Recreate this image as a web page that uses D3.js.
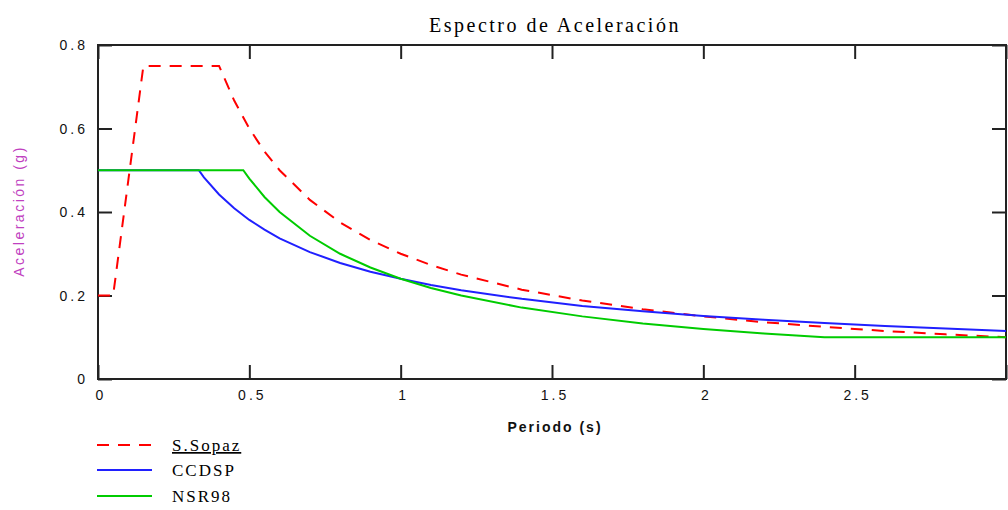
<!DOCTYPE html>
<html>
<head>
<meta charset="utf-8">
<script src="https://cdn.jsdelivr.net/npm/d3@7"></script>
<style>
  html, body { margin: 0; padding: 0; background: #fff; }
  svg { display: block; }
</style>
</head>
<body>
<svg id="chart" width="1008" height="510"></svg>
<script>
// ---- data ----
const seriesNames = ["S.Sopaz", "CCDSP", "NSR98"];

const periodsSopaz = [0, 0.05, 0.15, 0.4, 0.45, 0.5, 0.55, 0.6, 0.7, 0.8, 0.9, 1.0, 1.1, 1.2, 1.4, 1.6, 1.8, 2.0, 2.2, 2.4, 2.6, 2.8, 3.0];
const valuesSopaz  = [0.2, 0.2, 0.75, 0.75, 0.667, 0.6, 0.545, 0.5, 0.429, 0.375, 0.333, 0.3, 0.273, 0.25, 0.214, 0.188, 0.167, 0.15, 0.136, 0.125, 0.115, 0.107, 0.1];

const periodsCCDSP = [0, 0.333, 0.35, 0.4, 0.45, 0.5, 0.55, 0.6, 0.7, 0.8, 0.9, 1.0, 1.1, 1.2, 1.4, 1.6, 1.8, 2.0, 2.2, 2.4, 2.6, 2.8, 3.0];
const valuesCCDSP  = [0.5, 0.5, 0.483, 0.442, 0.409, 0.381, 0.358, 0.337, 0.304, 0.278, 0.257, 0.24, 0.225, 0.2125, 0.192, 0.175, 0.162, 0.151, 0.142, 0.134, 0.127, 0.121, 0.115];

const periodsNSR98 = [0, 0.48, 0.5, 0.55, 0.6, 0.7, 0.8, 0.9, 1.0, 1.1, 1.2, 1.4, 1.6, 1.8, 2.0, 2.2, 2.4, 2.6, 2.8, 3.0];
const valuesNSR98  = [0.5, 0.5, 0.48, 0.436, 0.4, 0.343, 0.3, 0.267, 0.24, 0.218, 0.2, 0.171, 0.15, 0.133, 0.12, 0.109, 0.1, 0.1, 0.1, 0.1];

const xTicks = [0, 0.5, 1, 1.5, 2, 2.5, 3];
const xTickLabels = ["0", "0.5", "1", "1.5", "2", "2.5", ""];
const yTicks = [0, 0.2, 0.4, 0.6, 0.8];
const yTickLabels = ["0", "0.2", "0.4", "0.6", "0.8"];

const titleText = "Espectro de Aceleración";
const xLabelText = "Periodo (s)";
const yLabelText = "Aceleración (g)";

// ---- layout ----
const svg = d3.select("#chart");
const L = 98, R = 1006, T = 45, B = 379;

const x = d3.scaleLinear().domain([0, 3]).range([L, R]);
const y = d3.scaleLinear().domain([0, 0.8]).range([B, T]);

const series = [
  { name: seriesNames[0], xs: periodsSopaz, ys: valuesSopaz, color: "#ff0000", dash: "12,9" },
  { name: seriesNames[1], xs: periodsCCDSP, ys: valuesCCDSP, color: "#2020ff", dash: null },
  { name: seriesNames[2], xs: periodsNSR98, ys: valuesNSR98, color: "#00cc00", dash: null }
];

// frame
svg.append("rect")
  .attr("x", L).attr("y", T).attr("width", R - L).attr("height", B - T)
  .attr("fill", "none").attr("stroke", "#222").attr("stroke-width", 2);

// inward ticks on all four sides
const tickLen = 14;
const bottomAxis = d3.axisBottom(x).tickValues(xTicks).tickSize(-tickLen).tickFormat("");
const topAxis = d3.axisTop(x).tickValues(xTicks).tickSize(-tickLen).tickFormat("");
const leftAxis = d3.axisLeft(y).tickValues(yTicks).tickSize(-tickLen).tickFormat("");
const rightAxis = d3.axisRight(y).tickValues(yTicks).tickSize(-tickLen).tickFormat("");

function styleAxis(g) {
  g.select(".domain").remove();
  g.selectAll(".tick line").attr("stroke", "#222").attr("stroke-width", 2);
}
svg.append("g").attr("transform", `translate(0,${B})`).call(bottomAxis).call(styleAxis);
svg.append("g").attr("transform", `translate(0,${T})`).call(topAxis).call(styleAxis);
svg.append("g").attr("transform", `translate(${L},0)`).call(leftAxis).call(styleAxis);
svg.append("g").attr("transform", `translate(${R},0)`).call(rightAxis).call(styleAxis);

// tick labels
const tickFont = "Liberation Sans, Arial, sans-serif";
svg.append("g").selectAll("text").data(xTicks).join("text")
  .attr("x", d => x(d) + 3).attr("y", B + 21)
  .attr("text-anchor", "middle")
  .attr("font-family", tickFont).attr("font-size", 14)
  .attr("letter-spacing", 3)
  .attr("fill", "#111")
  .text((d, i) => xTickLabels[i]);

svg.append("g").selectAll("text").data(yTicks).join("text")
  .attr("x", L - 10).attr("y", d => y(d) + 5)
  .attr("text-anchor", "end")
  .attr("font-family", tickFont).attr("font-size", 14)
  .attr("letter-spacing", 3)
  .attr("fill", "#111")
  .text((d, i) => yTickLabels[i]);

// series lines
const line = d3.line().x(d => x(d[0])).y(d => y(d[1]));
series.forEach(s => {
  const pts = s.xs.map((v, i) => [v, s.ys[i]]);
  svg.append("path")
    .datum(pts)
    .attr("d", line)
    .attr("fill", "none")
    .attr("stroke", s.color)
    .attr("stroke-width", 2)
    .attr("stroke-dasharray", s.dash);
});

// title
svg.append("text")
  .attr("x", 555).attr("y", 32)
  .attr("text-anchor", "middle")
  .attr("font-family", "Liberation Serif, Times New Roman, serif")
  .attr("font-size", 20)
  .attr("letter-spacing", 2.5)
  .attr("fill", "#000")
  .text(titleText);

// axis labels
svg.append("text")
  .attr("x", 555).attr("y", 432)
  .attr("text-anchor", "middle")
  .attr("font-family", tickFont).attr("font-size", 14)
  .attr("font-weight", "bold")
  .attr("letter-spacing", 2)
  .attr("fill", "#111")
  .text(xLabelText);

svg.append("text")
  .attr("transform", "translate(24,211) rotate(-90)")
  .attr("text-anchor", "middle")
  .attr("font-family", tickFont).attr("font-size", 14)
  .attr("letter-spacing", 2.5)
  .attr("fill", "#c040c0")
  .text(yLabelText);

// legend
const legendY = [445, 470, 496];
const lg = svg.append("g");
series.forEach((s, i) => {
  lg.append("line")
    .attr("x1", 97).attr("x2", 152)
    .attr("y1", legendY[i]).attr("y2", legendY[i])
    .attr("stroke", s.color).attr("stroke-width", 2)
    .attr("stroke-dasharray", s.dash);
  lg.append("text")
    .attr("x", 172).attr("y", legendY[i] + 6)
    .attr("font-family", "Liberation Serif, Times New Roman, serif")
    .attr("font-size", 17)
    .attr("letter-spacing", 2)
    .attr("fill", "#000")
    .attr("text-decoration", i === 0 ? "underline" : null)
    .text(s.name);
});
</script>
</body>
</html>
